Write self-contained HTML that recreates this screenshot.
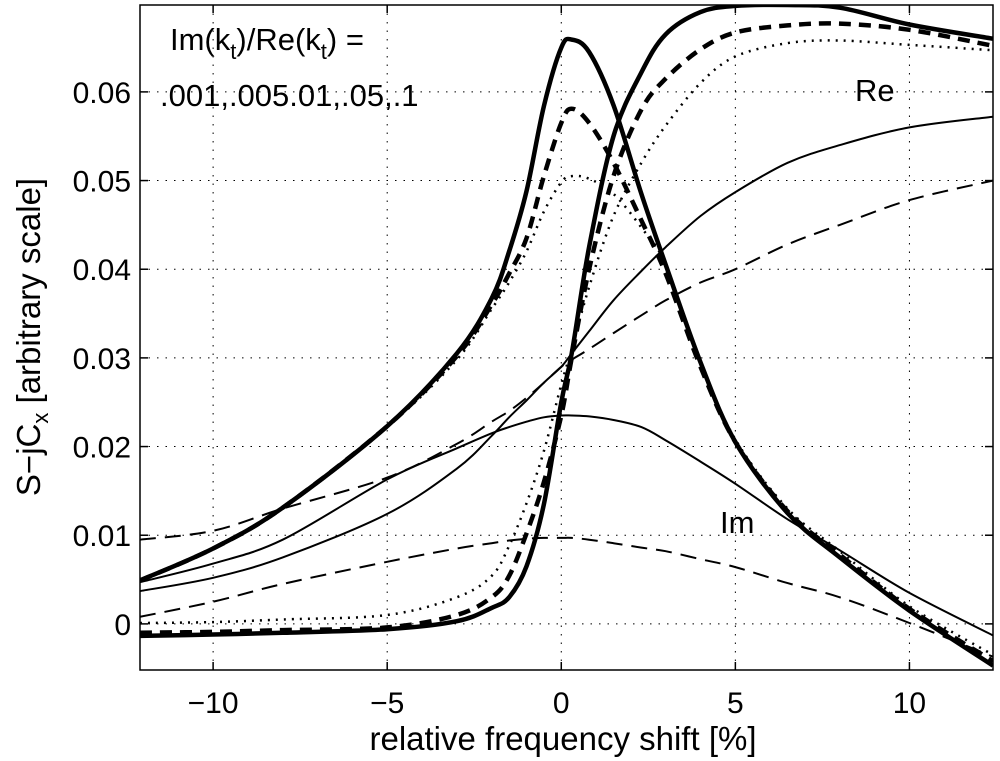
<!DOCTYPE html>
<html><head><meta charset="utf-8"><style>
html,body{margin:0;padding:0;background:#fff;}
svg{display:block;font-family:"Liberation Sans",Arial,sans-serif;}
</style></head><body>
<svg id="chart" width="1000" height="761" viewBox="0 0 1000 761" xmlns="http://www.w3.org/2000/svg">
<defs><clipPath id="clip"><rect x="140" y="5" width="853" height="665"/></clipPath></defs>
<rect x="0" y="0" width="1000" height="761" fill="#fff"/>
<g id="grid"></g>
<g id="series" clip-path="url(#clip)"></g>
<rect x="140" y="5" width="853" height="665" fill="none" stroke="#000" stroke-width="1.5"/>
<g id="ticks"></g>
<text x="563" y="750" font-size="33" text-anchor="middle">relative frequency shift [%]</text>
<text transform="translate(40,337) rotate(-90)" font-size="33" text-anchor="middle">S−jC<tspan font-size="22" dy="8">x</tspan><tspan dy="-8"> [arbitrary scale]</tspan></text>
<text x="170" y="50" font-size="31">Im(k<tspan font-size="22" dy="9">t</tspan><tspan dy="-9">)/Re(k</tspan><tspan font-size="22" dy="9">t</tspan><tspan dy="-9">) =</tspan></text>
<text x="160" y="106" font-size="31">.001,.005.01,.05,.1</text>
<text x="855" y="101" font-size="31">Re</text>
<text x="720" y="533" font-size="31">Im</text>
</svg>
<script>
const xTicks=[-10,-5,0,5,10];
const xTickLabels=["−10","−5","0","5","10"];
const yTicks=[0,0.01,0.02,0.03,0.04,0.05,0.06];
const yTickLabels=["0","0.01","0.02","0.03","0.04","0.05","0.06"];
const xs=[-12.1,-10,-8,-5,-3,-2,-1.5,-1,-0.5,0,0.3,0.8,1.5,2.3,3,4,5,6.5,8,10,12.4];
const re001=[-0.00135,-0.0012,-0.001,-0.0006,0.0003,0.0018,0.003,0.0065,0.0135,0.025,0.0305,0.0425,0.055,0.0622,0.0665,0.069,0.0697,0.0698,0.0695,0.0676,0.066];
const re005=[-0.001,-0.0009,-0.0007,-0.0004,0.001,0.003,0.0054,0.0102,0.016,0.0235,0.03,0.04,0.0505,0.058,0.0615,0.0648,0.0667,0.0675,0.0677,0.067,0.0652];
const re01=[0.0001,0.0002,0.0005,0.001,0.003,0.0054,0.0088,0.0136,0.0195,0.027,0.031,0.038,0.046,0.052,0.0562,0.061,0.064,0.0655,0.0658,0.0653,0.0647];
const re05=[0.0037,0.0052,0.0075,0.0124,0.0175,0.0212,0.0233,0.0252,0.0272,0.029,0.0305,0.033,0.0365,0.0398,0.0425,0.046,0.0487,0.052,0.054,0.056,0.0572];
const re1=[0.0095,0.0105,0.013,0.0165,0.0203,0.0228,0.024,0.0255,0.0272,0.029,0.0298,0.031,0.0328,0.0348,0.0365,0.0385,0.040,0.0428,0.045,0.0478,0.05];
const im001=[0.0049,0.0085,0.0131,0.0223,0.0305,0.0367,0.042,0.0488,0.0584,0.065,0.0659,0.0645,0.0585,0.0485,0.0405,0.0295,0.0205,0.0125,0.0075,0.0015,-0.0047];
const im005=[0.0049,0.0085,0.0131,0.0223,0.0302,0.036,0.0395,0.0435,0.0505,0.0565,0.0581,0.0565,0.052,0.0455,0.0395,0.029,0.0205,0.0127,0.0078,0.0017,-0.0042];
const im01=[0.0049,0.0085,0.0131,0.0222,0.0298,0.0355,0.0385,0.042,0.0465,0.0498,0.0505,0.0502,0.0485,0.0447,0.0405,0.0295,0.0208,0.013,0.0082,0.002,-0.0035];
const im05=[0.0047,0.0068,0.0095,0.0163,0.0198,0.0215,0.0222,0.0228,0.0233,0.0235,0.0235,0.0234,0.023,0.0222,0.0207,0.0183,0.0158,0.0118,0.0083,0.0035,-0.0013];
const im1=[0.0008,0.0025,0.0045,0.0070,0.0085,0.0091,0.0094,0.0096,0.0097,0.0097,0.0097,0.0095,0.0091,0.0086,0.0082,0.0073,0.0064,0.0046,0.003,0.0001,-0.0037];
const NS="http://www.w3.org/2000/svg";
const X0=-12.1,X1=12.4,Y0=-0.0052,Y1=0.0698,L=140,R=993,T=5,B=670;
function sx(v){return L+(v-X0)/(X1-X0)*(R-L);}
function sy(v){return B-(v-Y0)/(Y1-Y0)*(B-T);}
function mk(tag,attrs,parent){const e=document.createElementNS(NS,tag);for(const k in attrs)e.setAttribute(k,attrs[k]);parent.appendChild(e);return e;}
const grid=document.getElementById('grid'),ticks=document.getElementById('ticks'),ser=document.getElementById('series');
xTicks.forEach((t,i)=>{
  const g=mk('line',{x1:sx(t),x2:sx(t),y1:T,y2:B,stroke:'#000','stroke-width':1,'stroke-dasharray':'1.5,7'},grid);
  
  
  const a=mk('line',{x1:sx(t),x2:sx(t),y1:B,y2:B-8,stroke:'#000','stroke-width':1.5},ticks);
  
  
  const b=mk('line',{x1:sx(t),x2:sx(t),y1:T,y2:T+8,stroke:'#000','stroke-width':1.5},ticks);
  
  
  const tx=mk('text',{x:sx(t),y:713,'font-size':30,'text-anchor':'middle'},ticks);
  tx.textContent=xTickLabels[i];
  
  
});
yTicks.forEach((t,i)=>{
  const g=mk('line',{x1:L,x2:R,y1:sy(t),y2:sy(t),stroke:'#000','stroke-width':1,'stroke-dasharray':'1.5,7'},grid);
  
  
  const a=mk('line',{x1:L,x2:L+8,y1:sy(t),y2:sy(t),stroke:'#000','stroke-width':1.5},ticks);
  
  
  const b=mk('line',{x1:R,x2:R-8,y1:sy(t),y2:sy(t),stroke:'#000','stroke-width':1.5},ticks);
  
  
  const tx=mk('text',{x:131,y:sy(t)+11,'font-size':30,'text-anchor':'end'},ticks);
  tx.textContent=yTickLabels[i];
  
  
});
function pathD(ys){
  const p=xs.map((x,i)=>[sx(x),sy(ys[i])]);
  let d='M'+p[0][0].toFixed(1)+','+p[0][1].toFixed(1);
  for(let i=0;i<p.length-1;i++){
    const p0=p[Math.max(0,i-1)],p1=p[i],p2=p[i+1],p3=p[Math.min(p.length-1,i+2)];
    const c1=[p1[0]+(p2[0]-p0[0])/6,p1[1]+(p2[1]-p0[1])/6];
    const c2=[p2[0]-(p3[0]-p1[0])/6,p2[1]-(p3[1]-p1[1])/6];
    d+=' C'+c1.map(v=>v.toFixed(1))+' '+c2.map(v=>v.toFixed(1))+' '+p2.map(v=>v.toFixed(1));
  }
  return d;
}
const styles=[
 ['re-001',re001,4.5,''],['re-005',re005,4.5,'12,8'],['re-01',re01,2.5,'2,6'],['re-05',re05,2,''],['re-1',re1,2,'16,9'],
 ['im-001',im001,4.5,''],['im-005',im005,4.5,'12,8'],['im-01',im01,2.5,'2,6'],['im-05',im05,2,''],['im-1',im1,2,'16,9']];
styles.forEach(s=>{
  const at={d:pathD(s[1]),fill:'none',stroke:'#000','stroke-width':s[2],'stroke-linejoin':'round'};
  if(s[3])at['stroke-dasharray']=s[3];
  const e=mk('path',at,ser);
  
  
});
</script>
</body></html>
